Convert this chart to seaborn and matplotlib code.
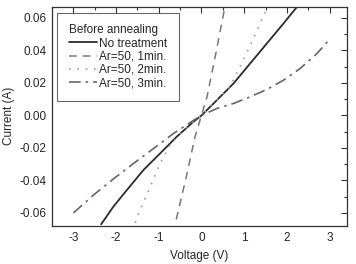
import numpy as np
import pandas as pd
import seaborn as sns
import matplotlib
matplotlib.use("Agg")
import matplotlib.pyplot as plt
from matplotlib.ticker import MultipleLocator, FuncFormatter

# values
v_none = [-2.35, -2.06, -1.75, -1.36, -0.97, -0.58, -0.19, 0.0, 0.36, 0.75, 1.14, 1.53, 1.92, 2.27]
i_none = [-0.067, -0.056, -0.046, -0.0336, -0.0234, -0.0131, -0.0039, 0.0,
          0.0094, 0.0197, 0.032, 0.0443, 0.0566, 0.0679]

v_1min = [-0.59, -0.34, -0.15, 0.0, 0.13, 0.32, 0.55]
i_1min = [-0.064, -0.036, -0.013, 0.0, 0.0115, 0.036, 0.067]

v_2min = [-1.55, -1.47, -1.2, -0.97, -0.73, -0.42, 0.0, 0.67, 0.9, 1.14, 1.34, 1.53]
i_2min = [-0.066, -0.060, -0.044, -0.0295, -0.018, -0.009, 0.0, 0.0177, 0.030, 0.043, 0.0546, 0.066]

v_3min = [-3.0, -2.53, -2.06, -1.59, -1.12, -0.65, -0.18, 0.0, 0.36, 0.75, 1.14,
          1.53, 1.92, 2.31, 2.7, 2.97]
i_3min = [-0.060, -0.049, -0.039, -0.0295, -0.0203, -0.011, -0.0029, 0.0, 0.0043,
          0.0074, 0.0115, 0.016, 0.0217, 0.0289, 0.038, 0.046]

labels = ["No treatment", "Ar=50, 1min.", "Ar=50, 2min.", "Ar=50, 3min."]

sns.set_style("white")
plt.rcParams['font.family'] = ['Liberation Sans', 'DejaVu Sans']
plt.rcParams['font.size'] = 8.5
plt.rcParams['axes.unicode_minus'] = False

fig = plt.figure(figsize=(3.56, 2.64), dpi=100)
ax = fig.add_axes([0.146, 0.144, 0.829, 0.831])

series = [
    (v_none, i_none, labels[0], "#2b2b2b", "-", 1.3),
    (v_1min, i_1min, labels[1], "#777777", (0, (5, 4)), 1.1),
    (v_2min, i_2min, labels[2], "#a0a0a0", (0, (1, 4)), 1.2),
    (v_3min, i_3min, labels[3], "#666666", (0, (7, 3, 1.5, 3)), 1.2),
]
for v, i, lab, col, ls, lw in series:
    df = pd.DataFrame({"Voltage": v, "Current": i})
    sns.lineplot(data=df, x="Voltage", y="Current", ax=ax, color=col,
                 linestyle=ls, linewidth=lw, label=lab, sort=False)

ax.set_xlim(-3.5, 3.41)
ax.set_ylim(-0.068, 0.067)
ax.xaxis.set_major_locator(MultipleLocator(1))
ax.xaxis.set_minor_locator(MultipleLocator(0.5))
ax.yaxis.set_major_locator(MultipleLocator(0.02))
ax.yaxis.set_minor_locator(MultipleLocator(0.01))
ax.yaxis.set_major_formatter(FuncFormatter(lambda y, p: f"{y:.2f}"))
ax.tick_params(which="both", direction="in", top=True, right=True, color="#333333")
ax.tick_params(which="major", length=4, width=0.8, labelsize=8.5, pad=4)
ax.tick_params(which="minor", length=2, width=0.8)
for s in ax.spines.values():
    s.set_color("#333333")
    s.set_linewidth(0.9)

ax.set_xlabel("Voltage (V)", fontsize=8.5, labelpad=5)
ax.set_ylabel("Current (A)", fontsize=8.5, labelpad=3)

leg = ax.legend(title="Before annealing", loc="upper left", fontsize=8.5,
                title_fontsize=8.5, frameon=True, fancybox=False,
                edgecolor="#444444", handlelength=2.4, handletextpad=0.15,
                borderpad=1.0, labelspacing=0.1, borderaxespad=0,
                bbox_to_anchor=(0.018, 0.973))
leg._legend_box.align = "left"
leg.get_frame().set_linewidth(0.8)

fig.savefig("out.png", dpi=100)
